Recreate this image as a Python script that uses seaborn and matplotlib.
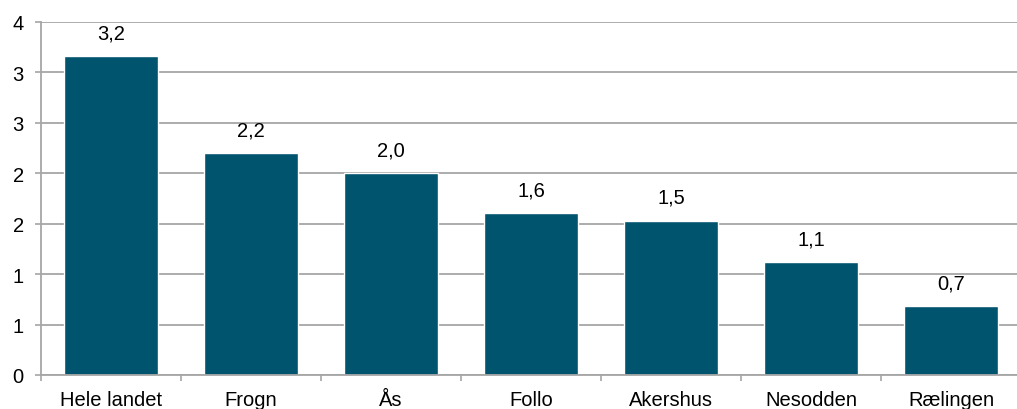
import math
import matplotlib
matplotlib.use("Agg")
import matplotlib.pyplot as plt
from matplotlib.ticker import FuncFormatter, FixedLocator
import seaborn as sns
import pandas as pd

categories = ["Hele landet", "Frogn", "Ås", "Follo", "Akershus", "Nesodden", "Rælingen"]
values = [3.16, 2.20, 2.00, 1.60, 1.53, 1.12, 0.68]

sns.set_theme(style="white")
plt.rcParams["font.family"] = ["Liberation Sans", "DejaVu Sans"]

bar_color = "#01546E"
grid_color = "#A6A6A6"
fs = 14.5

fig = plt.figure(figsize=(10.17, 4.10), dpi=100)
W, H = 1017, 410
ax = fig.add_axes([41 / W, (H - 376) / H, 980 / W, (376 - 22.7) / H])

df = pd.DataFrame({"cat": categories, "val": values})
sns.barplot(data=df, x="cat", y="val", color=bar_color, saturation=1, width=0.665, ax=ax)

ax.set_xlim(-0.5, len(categories) - 0.5)
ax.set_ylim(0, 3.5)
ax.set_yticks([0, 0.5, 1, 1.5, 2, 2.5, 3, 3.5])
ax.yaxis.set_major_formatter(FuncFormatter(lambda v, p: f"{math.floor(v + 0.5 + 1e-9):d}"))
ax.grid(axis="y", color=grid_color, linewidth=1.3)
ax.set_axisbelow(True)
ax.set_xlabel("")
ax.set_ylabel("")

for s in ["top", "right"]:
    ax.spines[s].set_visible(False)
for s in ["left", "bottom"]:
    ax.spines[s].set_color(grid_color)
    ax.spines[s].set_linewidth(1.3)

ax.tick_params(axis="y", which="major", left=True, length=4.5, width=1.2, color=grid_color,
               labelsize=fs, labelcolor="black", pad=8)
ax.tick_params(axis="x", which="major", bottom=False, length=0, labelsize=fs, labelcolor="black", pad=11)
ax.xaxis.set_minor_locator(FixedLocator([i - 0.5 for i in range(len(categories) + 1)]))
ax.tick_params(axis="x", which="minor", bottom=True, length=4, width=1.2, color=grid_color)

for i, v in enumerate(values):
    ax.annotate(f"{v:.1f}".replace(".", ","), xy=(i, v), xytext=(0, 10), textcoords="offset points",
                ha="center", va="bottom", fontsize=fs, color="black")

fig.savefig("out.png", dpi=100)
